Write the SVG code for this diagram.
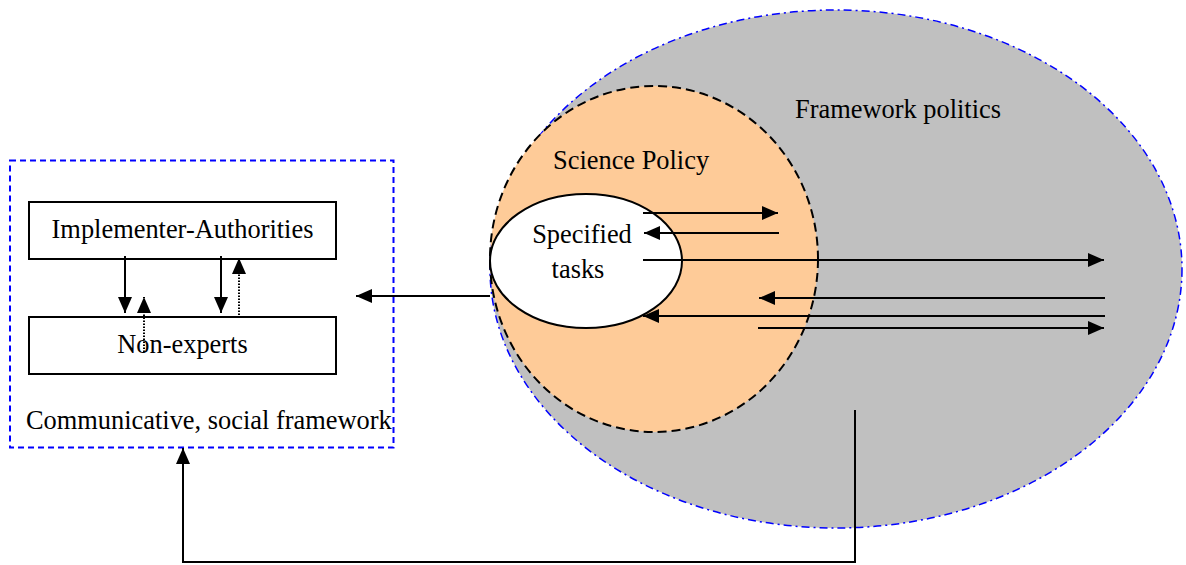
<svg xmlns="http://www.w3.org/2000/svg" width="1186" height="565" viewBox="0 0 1186 565">
  <style>
    .lbl { font-family: "Liberation Serif", "Times New Roman", serif; font-size: 26.4px; fill: #000; }
    .box { fill: #fff; stroke: #000; stroke-width: 2; }
    .arr { fill: none; stroke: #000; stroke-width: 2; marker-end: url(#head); }
    .dot { fill: none; stroke: #000; stroke-width: 2; stroke-dasharray: 1.5 1.5; marker-end: url(#head); }
  </style>
  <defs>
    <marker id="head" markerUnits="userSpaceOnUse" markerWidth="16" markerHeight="14" refX="16" refY="7" orient="auto">
      <path d="M0,0 L16,7 L0,14 Z" fill="#000"/>
    </marker>
  </defs>
  <rect width="1186" height="565" fill="#fff"/>

  <!-- outer framework: framework politics -->
  <g id="framework-politics">
    <ellipse cx="836" cy="269" rx="346" ry="259" fill="#c0c0c0" stroke="#0000ff" stroke-width="1.5" stroke-dasharray="8 4 2 4"/>
    <text class="lbl" x="795" y="118">Framework politics</text>
  </g>

  <!-- science policy -->
  <g id="science-policy">
    <ellipse cx="654" cy="259" rx="164" ry="173" fill="#fecb98" stroke="#000" stroke-width="2" stroke-dasharray="9 5"/>
    <text class="lbl" x="553" y="169">Science Policy</text>
  </g>

  <!-- specified tasks -->
  <g id="specified-tasks">
    <ellipse cx="586" cy="261" rx="96" ry="67" fill="#fff" stroke="#000" stroke-width="2"/>
    <text class="lbl" x="582" y="243" text-anchor="middle">Specified</text>
    <text class="lbl" x="578" y="278" text-anchor="middle">tasks</text>
  </g>

  <!-- communicative, social framework -->
  <g id="social-framework">
    <rect x="10" y="160.5" width="383.5" height="287" fill="none" stroke="#0000ff" stroke-width="2" stroke-dasharray="6 4"/>
    <text class="lbl" x="26" y="429">Communicative, social framework</text>
  </g>

  <g id="implementer-authorities">
    <rect class="box" x="29" y="202" width="307" height="57"/>
    <text class="lbl" x="182.5" y="238" text-anchor="middle">Implementer-Authorities</text>
  </g>

  <g id="non-experts">
    <rect class="box" x="29" y="317" width="307" height="57"/>
    <text class="lbl" x="182.5" y="353" text-anchor="middle">Non-experts</text>
  </g>

  <!-- connectors -->
  <g id="connectors">
    <!-- between authorities and non-experts -->
    <path class="arr" d="M125,256 V313"/>
    <path class="arr" d="M221,256 V313"/>
    <path class="dot" d="M144,352 V297"/>
    <path class="dot" d="M239,315 V258"/>

    <!-- exchanges inside the policy circles -->
    <path class="arr" d="M643,213 H778"/>
    <path class="arr" d="M779,233 H644"/>
    <path class="arr" d="M643,260 H1104"/>
    <path class="arr" d="M1105,298 H759"/>
    <path class="arr" d="M1105,316 H643"/>
    <path class="arr" d="M758,328 H1104"/>

    <!-- science policy to the social framework -->
    <path class="arr" d="M490,296 H356"/>

    <!-- framework politics back to the social framework -->
    <path class="arr" stroke-width="1.6" d="M855,410 V562 H183 V448"/>
  </g>
</svg>
